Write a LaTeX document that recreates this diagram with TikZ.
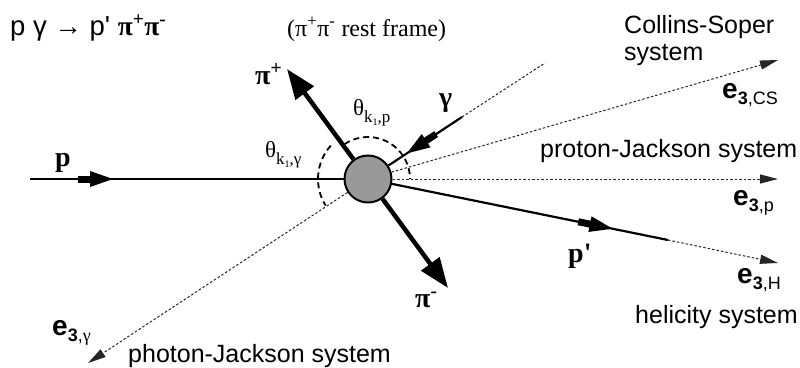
\documentclass[tikz,border=0pt]{standalone}
\usepackage{fontspec}
\setmainfont{Liberation Serif}
\setsansfont{Liberation Sans}
\usetikzlibrary{arrows.meta,decorations.markings}

\newcommand{\evec}[1]{e\raisebox{-6pt}{\fontsize{18}{18}\selectfont 3\mdseries,#1}}
\newcommand{\thsub}[1]{θ\raisebox{-7pt}{\fontsize{17}{17}\selectfont k\raisebox{-3pt}{\fontsize{10}{10}\selectfont 1},#1}}

\begin{document}
\begin{tikzpicture}[x=1pt,y=-1pt,
  track/.style={line width=2.2pt},
  flow/.style={postaction={decorate},decoration={markings,mark=at position #1 with {
    \fill (0pt,-3.5pt) rectangle (14pt,3.5pt);
    \fill (12pt,-8pt) -- (35pt,0pt) -- (12pt,8pt) -- cycle;}}},
  pion/.style={line width=4.5pt,-{Triangle[length=30pt,width=22pt]}},
  axis/.style={line width=1pt,dash pattern=on 2.5pt off 2pt,black!85},
  axhead/.style={axis,-{Triangle[length=18pt,width=9pt]}},
  angarc/.style={line width=1.8pt,dash pattern=on 6pt off 4pt},
  lbl/.style={font=\sffamily\fontsize{25}{27}\selectfont,inner sep=0pt,anchor=base west},
  plbl/.style={font=\bfseries\fontsize{28}{30}\selectfont,inner sep=0pt,anchor=base west},
  elbl/.style={font=\sffamily\bfseries\fontsize{28}{30}\selectfont,inner sep=0pt,anchor=base west},
  thlbl/.style={font=\fontsize{23}{25}\selectfont,inner sep=0pt,anchor=base west}]
\useasboundingbox (0,0) rectangle (800,367);

\node[circle,draw,line width=2pt,fill=black!40,minimum size=47pt,inner sep=0pt] (vtx) at (368,179) {};

\coordinate (pin) at (30,179);
\coordinate (gin) at (462,117);
\coordinate (gend) at (545,63);
\coordinate (pout) at (668,240);
\coordinate (piptip) at (287,69);
\coordinate (pimtip) at (448,288);
\coordinate (cstip) at (778,60);
\coordinate (pjtip) at (778,179);
\coordinate (htip) at (778,263);
\coordinate (gjtip) at (88,363);

% frame axes
\draw[axhead] (vtx) -- (cstip);
\draw[axhead] (vtx) -- (pjtip);
\draw[axhead] (pout) -- (htip);
\draw[axhead] (vtx) -- (gjtip);
\draw[axis] (gin) -- (gend);

% particles
\draw[track,flow=48pt] (pin) -- (vtx);
\draw[track,flow=31pt] (gin) -- (vtx);
\draw[track,flow=190pt] (vtx) -- (pout);
\draw[pion] (vtx) -- (piptip);
\draw[pion] (vtx) -- (pimtip);

% angles
\draw[angarc] ([shift={(-124:42)}]vtx.center) arc[start angle=-124,end angle=0,radius=42];
\draw[angarc] ([shift={(-138:50)}]vtx.center) arc[start angle=-138,end angle=-212,radius=50];

\node[anchor=base west,inner sep=0pt,font=\sffamily\fontsize{27.5}{30}\selectfont] (reac) at (10,35)
  {p γ → p\textquotesingle{} {\rmfamily\bfseries π\textsuperscript{+}π\textsuperscript{-}}};
\node[anchor=base west,inner sep=0pt,font=\fontsize{24}{26}\selectfont] (rest) at (287,36)
  {(π\textsuperscript{+}π\textsuperscript{-} rest frame)};

\node[plbl] (plab) at (55,166) {p};
\node[plbl] (pplab) at (568,262) {p\textquotesingle};
\node[plbl] (piplab) at (255,84) {π\textsuperscript{+}};
\node[plbl] (pimlab) at (415,307) {π\textsuperscript{-}};
\node[plbl] (glab) at (439,106) {γ};
\node[thlbl] (thp) at (353,115) {\thsub{p}};
\node[thlbl] (thg) at (265,157) {\thsub{γ}};

\node[lbl,anchor=north west,align=left] (cslab) at (624,15) {Collins-Soper\\system};
\node[lbl] (pjlab) at (540,157) {proton-Jackson system};
\node[lbl] (hlab) at (635,323) {helicity system};
\node[lbl] (gjlab) at (128,362) {photon-Jackson system};
\node[elbl] (ecs) at (722,98) {\evec{CS}};
\node[elbl] (ep) at (733,205) {\evec{p}};
\node[elbl] (eh) at (737,283) {\evec{H}};
\node[elbl] (eg) at (52,335) {\evec{{\rmfamily γ}}};
\end{tikzpicture}
\end{document}
